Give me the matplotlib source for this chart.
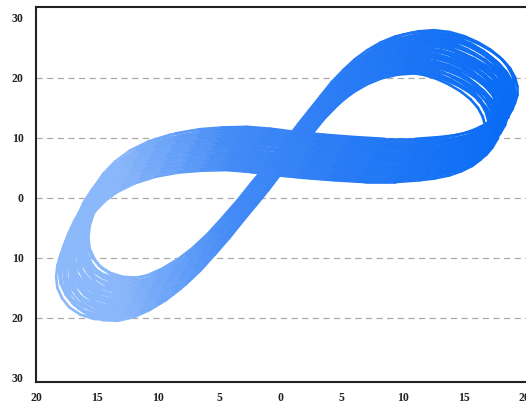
import numpy as np
import matplotlib.pyplot as plt
from matplotlib.collections import LineCollection
from matplotlib.colors import LinearSegmentedColormap, Normalize

# centre line of the figure-eight, traced once round (x, y)
path_x = [0.0, 2.5, 5.0, 7.5, 10.0, 12.0, 13.2, 14.4, 15.4, 16.3, 17.0, 17.5,
          17.9, 18.1, 18.1, 17.9, 17.5, 16.9, 16.1, 15.1, 14.0, 12.8, 11.5,
          10.2, 8.9, 7.7, 6.6, 5.6, 4.7, 3.7, 2.8, 1.9, 1.0, 0.1, -0.8, -1.8,
          -2.9, -4.0, -5.2, -6.4, -7.6, -8.8, -10.1, -11.4, -12.7, -13.9,
          -15.0, -15.9, -16.5, -16.9, -17.0, -16.9, -16.6, -16.2, -15.7,
          -15.0, -14.0, -12.8, -11.3, -9.6, -7.7, -5.8, -3.8, -1.9, 0.0]
path_y = [7.4, 6.9, 6.5, 6.2, 6.2, 6.5, 6.8, 7.3, 8.0, 8.9, 10.0, 11.2,
          12.6, 14.0, 15.4, 16.9, 18.4, 19.8, 21.1, 22.3, 23.3, 24.0, 24.3,
          24.1, 23.5, 22.5, 21.2, 19.7, 18.0, 15.9, 13.6, 11.3, 9.0, 6.6, 4.2,
          1.7, -1.0, -3.8, -6.6, -9.3, -11.6, -13.5, -15.1, -16.3, -16.9,
          -16.8, -16.1, -14.9, -13.4, -11.6, -9.8, -7.9, -5.9, -3.8, -1.6,
          0.6, 2.7, 4.5, 6.0, 7.1, 7.8, 8.1, 8.2, 7.9, 7.4]

# drift of each loop away from the centre line
loop_dx = [-0.6, -1.35, -0.71, -0.95, -0.16, -1.08, -0.63, -0.13, -1.13, -0.29,
           -0.55, 0.1, -0.7, -0.16, -0.81, 0.13, -0.23, 0.48, -0.34, 0.06,
           -0.45, 0.45, -0.05, 0.39, -0.41, 0.73, 0.33, 0.03, 0.81, -0.09,
           0.66, 0.4, 1.1, 0.2, 0.95, 0.49, 0.74, 1.29, 0.49, 1.05]
loop_dy = [-3.6, -3.4, -3.25, -3.0, -2.85, -2.7, -2.5, -2.3, -2.1, -1.95,
           -1.8, -1.6, -1.4, -1.25, -1.05, -0.9, -0.7, -0.5, -0.35, -0.15,
           0.0, 0.2, 0.4, 0.55, 0.75, 0.9, 1.1, 1.3, 1.45, 1.65,
           1.85, 2.0, 2.2, 2.4, 2.6, 2.75, 2.95, 3.15, 3.35, 3.6]

x_ticks = [-20, -15, -10, -5, 0, 5, 10, 15, 20]
x_labels = ['20', '15', '10', '5', '0', '5', '10', '15', '20']
y_ticks = [-30, -20, -10, 0, 10, 20, 30]
y_labels = ['30', '20', '10', '0', '10', '20', '30']
grid_y = [-20, -10, 0, 10, 20]

plt.rcParams['font.family'] = ['Liberation Serif', 'DejaVu Serif']

fig = plt.figure(figsize=(5.26, 4.05), dpi=100)
ax = fig.add_axes([0.0684, 0.0568, 0.9411, 0.925])

for gy in grid_y:
    ax.axhline(gy, color='#a9a9a9', lw=0.9, ls=(0, (5, 3.5)), zorder=1)

cmap = LinearSegmentedColormap.from_list(
    'blues', [(0.0, '#8cb9fa'), (0.114, '#8ab7fa'), (0.371, '#448bf6'),
              (0.63, '#2a7cf5'), (1.0, '#0a6cf5')])
norm = Normalize(-17, 18)

px = np.array(path_x)
py = np.array(path_y)
segs = []
mids = []
for dx, dy in zip(loop_dx, loop_dy):
    pts = np.column_stack([px + dx, py + dy])
    s = np.stack([pts[:-1], pts[1:]], axis=1)
    segs.append(s)
    mids.append(s[:, :, 0].mean(axis=1))
segs = np.concatenate(segs)
mids = np.concatenate(mids)

lc = LineCollection(segs, cmap=cmap, norm=norm, linewidths=1.9,
                    capstyle='round', joinstyle='round', zorder=2)
lc.set_array(mids)
ax.add_collection(lc)

ax.set_xlim(-19.76, 20.5)
ax.set_ylim(-30.7, 31.7)
ax.set_xticks(x_ticks)
ax.set_xticklabels(x_labels)
ax.set_yticks(y_ticks)
ax.set_yticklabels(y_labels)
ax.tick_params(axis='both', length=0, labelsize=8.5)
ax.tick_params(axis='x', pad=7)
ax.tick_params(axis='y', pad=9)
for lab in ax.get_xticklabels() + ax.get_yticklabels():
    lab.set_fontweight('bold')
    lab.set_color('#222222')

ax.spines['right'].set_visible(False)
for side in ['left', 'bottom', 'top']:
    ax.spines[side].set_linewidth(1.5)
    ax.spines[side].set_color('#222222')

fig.savefig('out.png', dpi=100)
